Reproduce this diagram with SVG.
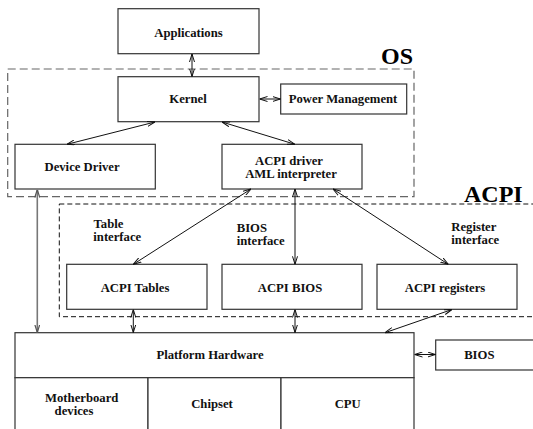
<svg xmlns="http://www.w3.org/2000/svg" width="533" height="429" viewBox="0 0 533 429">
<style>
.box{fill:#fff;stroke:#333;stroke-width:1.2}
.t{font-family:"Liberation Serif","Times New Roman",serif;font-weight:bold;font-size:12.7px;fill:#111;text-anchor:middle}
.tl{font-family:"Liberation Serif","Times New Roman",serif;font-weight:bold;font-size:12.7px;fill:#111}
.big{font-family:"Liberation Serif","Times New Roman",serif;font-weight:bold;font-size:24px;fill:#000}
.c{stroke:#111;stroke-width:1;fill:none;marker-start:url(#a);marker-end:url(#a)}
.cg{stroke:#777;stroke-width:1.6;fill:none;marker-start:url(#ag);marker-end:url(#ag)}
</style>
<defs>
<marker id="a" viewBox="0 0 8 6" refX="8" refY="3" markerWidth="8" markerHeight="6" markerUnits="userSpaceOnUse" orient="auto-start-reverse">
<path d="M0,0.5 L8,3 L0,5.5" fill="none" stroke="#111" stroke-width="1"/>
</marker>
<marker id="ag" viewBox="0 0 8 6" refX="8" refY="3" markerWidth="8" markerHeight="6" markerUnits="userSpaceOnUse" orient="auto-start-reverse">
<path d="M0,0.5 L8,3 L0,5.5" fill="none" stroke="#555" stroke-width="1.2"/>
</marker>
</defs>
<rect width="533" height="429" fill="#fff"/>
<g id="os-group">
<rect x="7.7" y="69" width="406.3" height="127.7" fill="none" stroke="#666" stroke-width="1.2" stroke-dasharray="8,4"/>
<text class="big" x="381" y="64">OS</text>
</g>
<g id="acpi-group">
<rect x="59.3" y="204" width="480" height="112.7" fill="none" stroke="#111" stroke-width="1" stroke-dasharray="5,3"/>
<text class="big" x="464" y="201.7">ACPI</text>
</g>
<g id="applications"><rect class="box" x="118" y="8.7" width="141" height="45"/><text class="t" x="188.5" y="36.5">Applications</text></g>
<g id="kernel"><rect class="box" x="118" y="76.7" width="141" height="45"/><text class="t" x="188" y="103">Kernel</text></g>
<g id="power-management"><rect class="box" x="280.7" y="84" width="126" height="30"/><text class="t" x="343" y="103">Power Management</text></g>
<g id="device-driver"><rect class="box" x="15" y="144.3" width="140.3" height="44.7"/><text class="t" x="82" y="171">Device Driver</text></g>
<g id="acpi-driver"><rect class="box" x="222" y="144.3" width="140" height="44.7"/><text class="t" x="289" y="165.3">ACPI driver</text><text class="t" x="291" y="177.8">AML interpreter</text></g>
<g id="acpi-tables"><rect class="box" x="66.7" y="264.3" width="140.3" height="45"/><text class="t" x="135" y="292">ACPI Tables</text></g>
<g id="acpi-bios"><rect class="box" x="222" y="264.3" width="140" height="45"/><text class="t" x="290" y="292">ACPI BIOS</text></g>
<g id="acpi-registers"><rect class="box" x="377" y="264.3" width="140" height="45"/><text class="t" x="445" y="292">ACPI registers</text></g>
<g id="platform-hardware">
<rect class="box" x="15" y="332.7" width="399" height="45"/>
<text class="t" x="210" y="358.7">Platform Hardware</text>
<rect class="box" x="15" y="377.7" width="133" height="60"/>
<rect class="box" x="148" y="377.7" width="133" height="60"/>
<rect class="box" x="281" y="377.7" width="133" height="60"/>
<text class="t" x="81.7" y="401.8">Motherboard</text><text class="t" x="74" y="415">devices</text>
<text class="t" x="212" y="408">Chipset</text>
<text class="t" x="347.7" y="408">CPU</text>
</g>
<g id="bios"><rect class="box" x="435.7" y="340" width="100" height="30"/><text class="t" x="479.3" y="358.7">BIOS</text></g>
<g id="labels">
<text class="tl" x="93.5" y="228">Table</text><text class="tl" x="93.3" y="240.7">interface</text>
<text class="tl" x="236.7" y="232">BIOS</text><text class="tl" x="236.7" y="244.5">interface</text>
<text class="tl" x="451.3" y="231">Register</text><text class="tl" x="451.3" y="244">interface</text>
</g>
<g id="connectors">
<line class="c" x1="192" y1="54" x2="192" y2="76.5"/>
<line class="c" x1="259.5" y1="99" x2="280.5" y2="99"/>
<line class="c" x1="155" y1="122" x2="67" y2="144.3"/>
<line class="c" x1="222" y1="122" x2="295" y2="144.3"/>
<line class="c" x1="251" y1="189" x2="133.3" y2="264.3"/>
<line class="c" x1="295" y1="189" x2="295" y2="264.3"/>
<line class="c" x1="333" y1="189" x2="448.3" y2="264.3"/>
<line class="c" x1="133.3" y1="309.5" x2="133.3" y2="332.5"/>
<line class="c" x1="295" y1="309.5" x2="295" y2="332.5"/>
<line class="c" x1="452" y1="309.5" x2="385" y2="332.7"/>
<line class="c" x1="414.5" y1="354.5" x2="435.5" y2="354.5"/>
<line class="cg" x1="37.3" y1="189.5" x2="37.3" y2="332.5"/>
</g>
</svg>
